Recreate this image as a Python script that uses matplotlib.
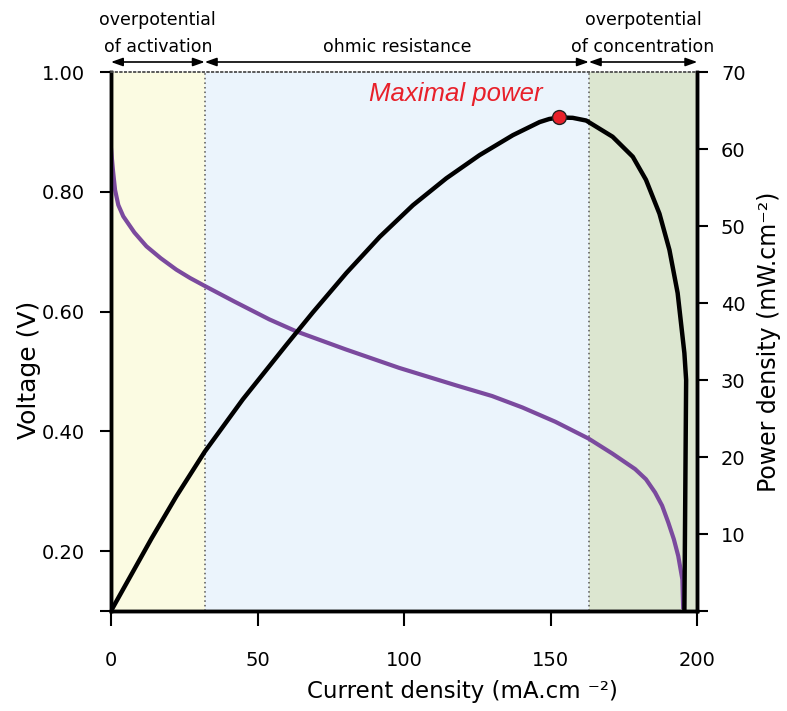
import numpy as np
import matplotlib
matplotlib.use("Agg")
import matplotlib.pyplot as plt

# voltage curve (current density mA/cm2, voltage V)
current_v = [0, 0.7, 1.4, 2.5, 4.2, 8, 12.1, 17, 22.3, 27, 32.3, 42, 54, 63.2,
             80, 98.3, 117.6, 130, 140.3, 151.6, 162.9, 171, 178.8, 182.5,
             185.6, 188, 190.1, 192, 193.5, 194.9, 195.2]
voltage = [0.873, 0.835, 0.803, 0.778, 0.759, 0.732, 0.709, 0.689, 0.670, 0.656,
           0.642, 0.617, 0.587, 0.567, 0.537, 0.506, 0.477, 0.459, 0.440, 0.416,
           0.388, 0.363, 0.337, 0.320, 0.298, 0.276, 0.248, 0.220, 0.192, 0.153, 0.103]

# power density curve (mW/cm2)
current_p = [0, 13.8, 22.3, 32, 45, 59.9, 68.9, 80.3, 91.7, 103.0, 114.4, 125.7,
             137.1, 146.2, 149.5, 152.9, 157.5, 162.1, 171.1, 178.0, 182.5, 187.1,
             190.5, 193.3, 195.6, 196.2, 195.6]
power = [0, 9.4, 14.9, 20.7, 27.5, 34.6, 38.8, 43.9, 48.6, 52.7, 56.2, 59.2,
         61.8, 63.5, 63.9, 64.1, 64.05, 63.7, 61.6, 59.0, 56.0, 51.6,
         46.9, 41.3, 33.5, 30.0, 0]

max_current, max_power = 152.7, 64.2

regions = [(0, 32, "#fbfbe2"), (32, 163, "#ebf4fc"), (163, 200, "#dce6d0")]
region_labels = ["overpotential\nof activation", "ohmic resistance",
                 "overpotential\nof concentration"]

fig = plt.figure(figsize=(7.87, 7.11), dpi=100)
ax = fig.add_axes([0.141, 0.1406, 0.745, 0.7581])
ax2 = ax.twinx()

for x0, x1, c in regions:
    ax.axvspan(x0, x1, color=c, lw=0, zorder=0)
for xb in [32, 163]:
    ax.axvline(xb, color="#555555", ls=(0, (1, 2)), lw=1.1, zorder=1)

ax.plot(current_v, voltage, color="#7b4a9e", lw=3, solid_capstyle="butt",
        solid_joinstyle="round", zorder=3)
ax2.plot(current_p, power, color="black", lw=3.2, solid_joinstyle="round", zorder=3)
ax2.plot(max_current, max_power, "o", ms=10, mfc="#e8202a", mec="#222222", mew=1, zorder=4)
ax2.text(117.5, 67.1, "Maximal power", color="#e8202a", fontsize=18.5, style="italic",
         family="Liberation Sans", ha="center", va="center")

ax.set_xlim(0, 200)
ax.set_ylim(0.1, 1.0)
ax2.set_ylim(0, 70)

ax.set_xticks([0, 50, 100, 150, 200])
ax.set_yticks([0.1, 0.2, 0.4, 0.6, 0.8, 1.0])
ax.set_yticklabels(["", "0.20", "0.40", "0.60", "0.80", "1.00"])
ax2.set_yticks([0, 10, 20, 30, 40, 50, 60, 70])
ax2.set_yticklabels(["", "10", "20", "30", "40", "50", "60", "70"])

ax.tick_params(axis="x", direction="out", length=11, width=1.5, pad=18, labelsize=14)
ax.tick_params(axis="y", direction="out", length=8, width=1.5, pad=11, labelsize=14)
ax2.tick_params(axis="y", direction="out", length=8, width=1.5, pad=9, labelsize=14)

for a in (ax, ax2):
    a.spines["top"].set_linestyle((0, (1, 2)))
    a.spines["top"].set_color("#555555")
    a.spines["top"].set_linewidth(1.1)
    for s in ["left", "right", "bottom"]:
        a.spines[s].set_linewidth(2.5)
ax.patch.set_visible(False)
ax.set_zorder(ax2.get_zorder() - 1)
ax2.patch.set_visible(False)
fig.patch.set_facecolor("white")

ax.set_xlabel("Current density (mA.cm ⁻²)", fontsize=16.5)
ax.xaxis.set_label_coords(0.599, -0.128)
ax.set_ylabel("Voltage (V)", fontsize=18)
ax.yaxis.set_label_coords(-0.12, 0.447)
ax2.set_ylabel("Power density (mW.cm⁻²)", fontsize=17, labelpad=8)

trans = ax.get_xaxis_transform()
for (x0, x1, c), lab in zip(regions, region_labels):
    ax.annotate("", xy=(x0, 1.0186), xytext=(x1, 1.0186), xycoords=trans, textcoords=trans,
                arrowprops=dict(arrowstyle="<|-|>,head_length=0.7,head_width=0.25",
                                color="black", lw=1.2, shrinkA=0, shrinkB=0),
                annotation_clip=False)
    ax.text((x0 + x1) / 2, 1.03, lab, transform=trans, ha="center", va="bottom",
            fontsize=12.5, linespacing=1.6)

fig.savefig("out.png", dpi=100)
